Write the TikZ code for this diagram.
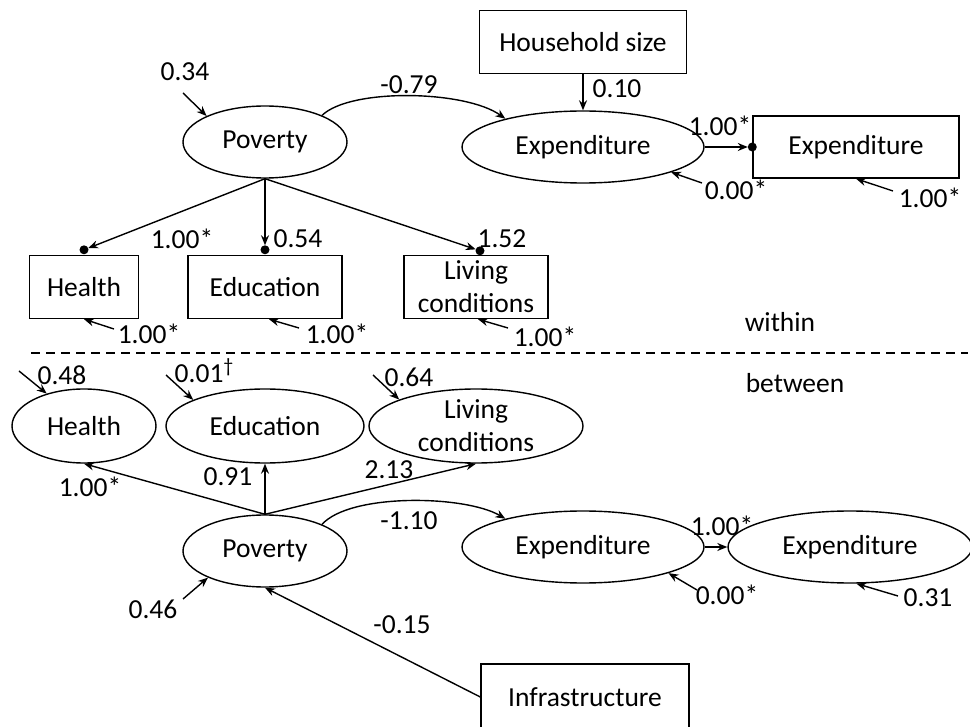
\documentclass[tikz,border=0pt]{standalone}
\usepackage{fontspec}
\setmainfont{Carlito}
\usetikzlibrary{shapes.geometric,arrows.meta}

\begin{document}
\begin{tikzpicture}[x=1pt,y=-1pt,
        font=\fontsize{27.5}{33}\selectfont,
        line width=1.4pt,
        >={Stealth[length=10pt,width=8pt]},
        obs/.style={draw, rectangle, inner sep=0pt, align=center},
        lat/.style={draw, ellipse, inner sep=0pt, align=center},
        lbl/.style={inner sep=0pt}]

        \useasboundingbox (0,0) rectangle (970,727);

        % within level
        \node[obs, minimum width=207pt, minimum height=63pt] (hhsize) at (583,42) {Household size};
        \node[lat, minimum width=164pt, minimum height=72pt] (povW) at (265,142) {Poverty};
        \node[lat, minimum width=242pt, minimum height=72pt] (expW) at (583,147) {Expenditure};
        \node[obs, minimum width=206pt, minimum height=62pt] (expObsW) at (856,147) {Expenditure};
        \node[obs, minimum width=109pt, minimum height=63pt] (hlthW) at (84,287) {Health};
        \node[obs, minimum width=154pt, minimum height=63pt] (eduW) at (265,287) {Education};
        \node[obs, minimum width=144pt, minimum height=63pt] (livW) at (476,287) {Living\\conditions};

        \draw[->] (hhsize.south) -- (expW.north);
        \draw[->] (povW.25) .. controls (350,88) and (465,90) .. (expW.160);
        \draw[->, shorten >=4.5pt] (expW.east) -- (expObsW.west);
        \fill (expObsW.west) circle (4.5pt); % dot
        \draw[->, shorten >=4.5pt] (povW.south) -- ([yshift=5pt]hlthW.north);
        \fill ([yshift=5pt]hlthW.north) circle (4.5pt); % dot
        \draw[->, shorten >=4.5pt] (povW.south) -- ([yshift=5pt]eduW.north);
        \fill ([yshift=5pt]eduW.north) circle (4.5pt); % dot
        \draw[->, shorten >=4.5pt] (povW.south) -- ([xshift=4pt,yshift=4pt]livW.north);
        \fill ([xshift=4pt,yshift=4pt]livW.north) circle (4.5pt); % dot

        % residuals, within
        \coordinate (rPovW) at (183,93);
        \coordinate (rExpW) at (702,183);
        \coordinate (rObsW) at (893,191);
        \coordinate (rHlthW) at (114,329);
        \coordinate (rEduW) at (299,328);
        \coordinate (rLivW) at (508,328);
        \draw[->] (rPovW) -- (povW.156);
        \draw[->] (rExpW) -- (expW.-16);
        \draw[->] (rObsW) -- (expObsW.south);
        \draw[->] (rHlthW) -- (hlthW.south);
        \draw[->] (rEduW) -- ([xshift=4pt]eduW.south);
        \draw[->] (rLivW) -- ([xshift=2pt]livW.south);

        \node[lbl] (vPovW) at (185,72) {0.34};
        \node[lbl] (cPovExpW) at (409,85) {-0.79};
        \node[lbl] (bHhW) at (617,89) {0.10};
        \node[lbl] (lExpW) at (720,126) {1.00*};
        \node[lbl] (vExpW) at (736,190) {0.00*};
        \node[lbl] (vObsW) at (930,198) {1.00*};
        \node[lbl] (lHlthW) at (182,239) {1.00*};
        \node[lbl] (lEduW) at (298,239) {0.54};
        \node[lbl] (lLivW) at (502,239) {1.52};
        \node[lbl] (vHlthW) at (149,334) {1.00*};
        \node[lbl] (vEduW) at (337,334) {1.00*};
        \node[lbl] (vLivW) at (545,337) {1.00*};
        \node[lbl] (within) at (780,322) {within};

        % level split
        \coordinate (splitL) at (31,353);
        \coordinate (splitR) at (968,353);
        \draw[line width=1.2pt, dash pattern=on 9pt off 6pt] (splitL) -- (splitR);
        \node[lbl] (between) at (795,383) {between};

        % between level
        \node[lat, minimum width=144pt, minimum height=74pt] (hlthB) at (84,426) {Health};
        \node[lat, minimum width=198pt, minimum height=74pt] (eduB) at (265,426) {Education};
        \node[lat, minimum width=214pt, minimum height=74pt, inner ysep=-12pt] (livB) at (476,426) {Living\\conditions};
        \node[lat, minimum width=164pt, minimum height=72pt] (povB) at (265,551) {Poverty};
        \node[lat, minimum width=242pt, minimum height=72pt] (expB) at (583,547) {Expenditure};
        \node[lat, minimum width=244pt, minimum height=72pt] (expObsB) at (850,547) {Expenditure};
        \node[obs, minimum width=208pt, minimum height=66pt] (infra) at (585,697) {Infrastructure};

        \draw[->] (povB.north) -- (hlthB.south);
        \draw[->] (povB.north) -- (eduB.south);
        \draw[->] (povB.north) -- (livB.south);
        \draw[->] (povB.25) .. controls (350,493) and (465,495) .. (expB.160);
        \draw[->] (expB.east) -- (expObsB.west);
        \draw[->] (infra.west) -- (povB.south);

        % residuals, between
        \coordinate (rHlthB) at (19,371);
        \coordinate (rEduB) at (166,375);
        \coordinate (rLivB) at (373,375);
        \coordinate (rPovB) at (183,599);
        \coordinate (rExpB) at (697,590);
        \coordinate (rObsB) at (898,596);
        \draw[->] (rHlthB) -- (hlthB.139);
        \draw[->] (rEduB) -- (eduB.160);
        \draw[->] (rLivB) -- (livB.161);
        \draw[->] (rPovB) -- (povB.205);
        \draw[->] (rExpB) -- (expB.-17);
        \draw[->] (rObsB) -- (expObsB.-80);

        \node[lbl] (vHlthB) at (62,375) {0.48};
        \node[lbl, anchor=base west] (vEduB) at (174,383) {0.01\raisebox{10pt}{\fontsize{20}{20}\selectfont\textdagger}};
        \node[lbl] (vLivB) at (409,377) {0.64};
        \node[lbl] (lHlthB) at (90,487) {1.00*};
        \node[lbl] (lEduB) at (228,477) {0.91};
        \node[lbl] (lLivB) at (389,470) {2.13};
        \node[lbl] (cPovExpB) at (409,521) {-1.10};
        \node[lbl] (lExpB) at (722,526) {1.00*};
        \node[lbl] (vExpB) at (727,595) {0.00*};
        \node[lbl] (vObsB) at (928,598) {0.31};
        \node[lbl] (vPovB) at (153,609) {0.46};
        \node[lbl] (bInfB) at (402,625) {-0.15};

\end{tikzpicture}
\end{document}
